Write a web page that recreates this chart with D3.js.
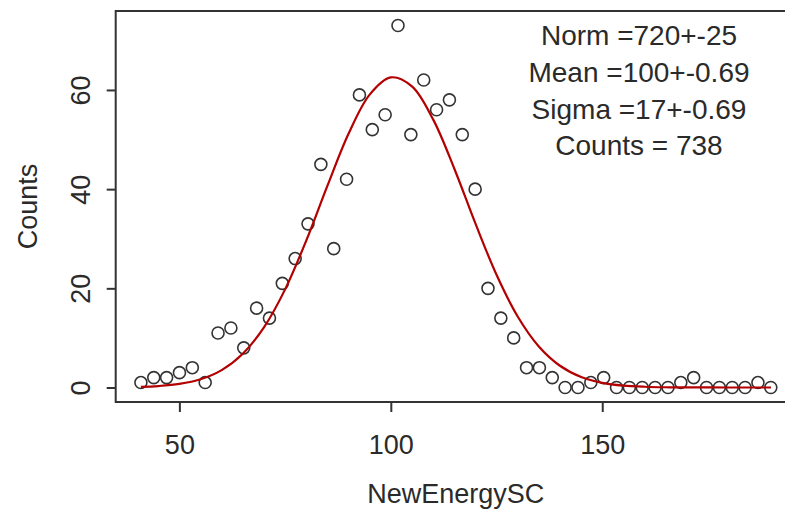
<!DOCTYPE html>
<html>
<head>
<meta charset="utf-8">
<script src="https://cdn.jsdelivr.net/npm/d3@7"></script>
<style>
  html, body { margin: 0; padding: 0; background: #ffffff; }
  svg { display: block; }
  text { font-family: "Liberation Sans", Arial, sans-serif; fill: #2a2a2a; }
</style>
</head>
<body>
<svg id="chart" width="785" height="510"></svg>
<script>
// ---- data ----
const binCenters = [40.90, 43.94, 46.98, 50.02, 53.06, 56.10, 59.14, 62.18, 65.22, 68.26,
  71.30, 74.34, 77.38, 80.42, 83.46, 86.50, 89.54, 92.58, 95.62, 98.66,
  101.70, 104.74, 107.78, 110.82, 113.86, 116.90, 119.94, 122.98, 126.02, 129.06,
  132.10, 135.14, 138.18, 141.22, 144.26, 147.30, 150.34, 153.38, 156.42, 159.46,
  162.50, 165.54, 168.58, 171.62, 174.66, 177.70, 180.74, 183.78, 186.82, 189.86];
const binCounts = [1, 2, 2, 3, 4, 1, 11, 12, 8, 16,
  14, 21, 26, 33, 45, 28, 42, 59, 52, 55,
  73, 51, 62, 56, 58, 51, 40, 20, 14, 10,
  4, 4, 2, 0, 0, 1, 2, 0, 0, 0,
  0, 0, 1, 2, 0, 0, 0, 0, 1, 0];

// fitted gaussian curve, sampled
const fitX = [40.9, 45, 50, 55, 60, 65, 70, 75, 80, 85, 90, 95, 100, 105, 110, 115, 120,
  125, 130, 135, 140, 145, 150, 155, 160, 165, 170, 175, 180, 185, 189.9];
const fitY = [0.13, 0.29, 0.72, 1.66, 3.51, 6.81, 12.13, 19.79, 29.62, 40.65, 51.16, 59.06,
  62.53, 60.72, 54.07, 44.17, 33.09, 22.73, 14.32, 8.28, 4.39, 2.13, 0.95, 0.39, 0.15,
  0.05, 0.02, 0.01, 0.0, 0.0, 0.0];

const xTicks = [50, 100, 150];
const yTicks = [0, 20, 40, 60];
const statLines = ["Norm =720+-25", "Mean =100+-0.69", "Sigma =17+-0.69", "Counts = 738"];
const xTitle = "NewEnergySC";
const yTitle = "Counts";

// ---- layout ----
const svg = d3.select("#chart");
const plotL = 115.7, plotR = 796, plotT = 11, plotB = 402;

const x = d3.scaleLinear().domain([34.94, 195.82]).range([plotL, plotR]);
const y = d3.scaleLinear().domain([-2.92, 75.92]).range([plotB, plotT]);

const axisColor = "#333";

// frame box
svg.append("rect")
  .attr("x", plotL).attr("y", plotT)
  .attr("width", plotR - plotL).attr("height", plotB - plotT)
  .attr("fill", "none").attr("stroke", axisColor).attr("stroke-width", 2);

// x axis
const xAxis = d3.axisBottom(x).tickValues(xTicks).tickSize(10).tickFormat(d3.format("d"));
const gx = svg.append("g").attr("transform", `translate(0,${plotB})`).call(xAxis);
gx.select(".domain").remove();
gx.selectAll(".tick line").attr("stroke", axisColor).attr("stroke-width", 2);
gx.selectAll(".tick text").attr("font-size", 27).attr("fill", "#2a2a2a")
  .attr("font-family", "Liberation Sans, Arial, sans-serif")
  .attr("dy", null).attr("y", 52);

// y axis
const yAxis = d3.axisLeft(y).tickValues(yTicks).tickSize(9).tickFormat(d3.format("d"));
const gy = svg.append("g").attr("transform", `translate(${plotL},0)`).call(yAxis);
gy.select(".domain").remove();
gy.selectAll(".tick line").attr("stroke", axisColor).attr("stroke-width", 2);
gy.selectAll(".tick text")
  .attr("font-size", 27).attr("fill", "#2a2a2a")
  .attr("font-family", "Liberation Sans, Arial, sans-serif")
  .attr("x", null).attr("dy", null)
  .attr("text-anchor", "middle")
  .attr("transform", "translate(-25.5,0) rotate(-90)");

// axis titles
svg.append("text")
  .attr("x", (plotL + plotR) / 2).attr("y", 503)
  .attr("text-anchor", "middle").attr("font-size", 27)
  .text(xTitle);

svg.append("text")
  .attr("transform", `translate(37,${(plotT + plotB) / 2}) rotate(-90)`)
  .attr("text-anchor", "middle").attr("font-size", 27)
  .text(yTitle);

// points
const pts = binCenters.map((c, i) => ({ x: c, y: binCounts[i] }));
svg.append("g").selectAll("circle")
  .data(pts).join("circle")
  .attr("cx", d => x(d.x)).attr("cy", d => y(d.y))
  .attr("r", 6)
  .attr("fill", "none").attr("stroke", "#333").attr("stroke-width", 1.6);

// fit curve
const fitPts = fitX.map((v, i) => [v, fitY[i]]);
svg.append("path")
  .datum(fitPts)
  .attr("fill", "none").attr("stroke", "#b30000").attr("stroke-width", 2.2)
  .attr("d", d3.line().x(d => x(d[0])).y(d => y(d[1])).curve(d3.curveCatmullRom));

// stats text
const baselines = [45, 81.7, 118.5, 154.5];
svg.append("g").selectAll("text")
  .data(statLines).join("text")
  .attr("x", 639).attr("y", (d, i) => baselines[i])
  .attr("text-anchor", "middle").attr("font-size", 28)
  .text(d => d);
</script>
</body>
</html>
